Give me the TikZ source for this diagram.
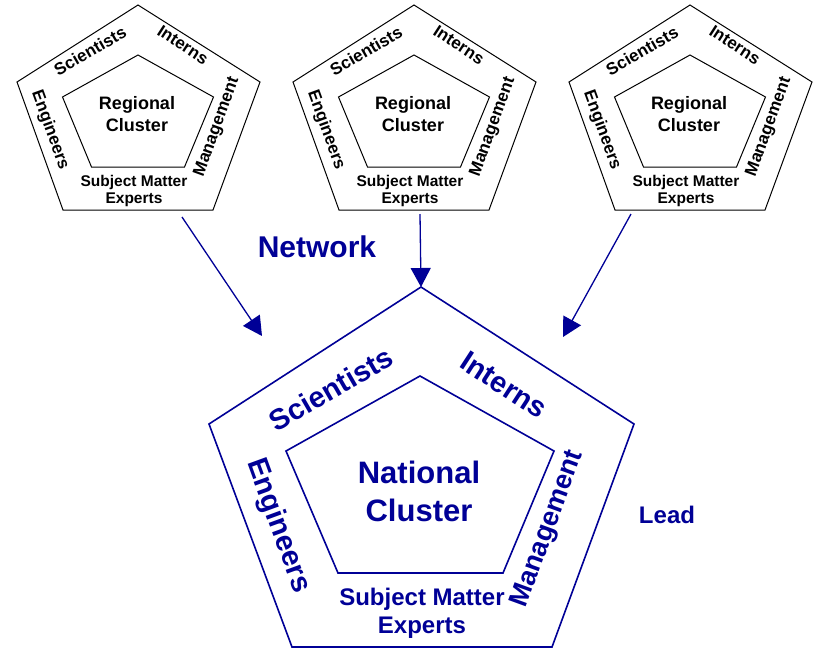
\documentclass[tikz,border=0pt]{standalone}
\usepackage{fontspec}
\setmainfont{Liberation Sans}
\usetikzlibrary{arrows.meta}
\definecolor{navy}{RGB}{0,0,150}

\begin{document}
\begin{tikzpicture}[
x=1pt, y=-1pt,
regbox/.style={draw=black, line width=1pt},
natbox/.style={draw=navy, line width=1.6pt},
regtitle/.style={font=\fontsize{18}{22}\selectfont\bfseries, text=black, inner sep=0pt, align=center},
regsme/.style={font=\fontsize{15.5}{17}\selectfont\bfseries, text=black, inner sep=0pt, align=center},
regside/.style={font=\fontsize{17}{19}\selectfont\bfseries, text=black, inner sep=0pt},
nattitle/.style={font=\fontsize{31}{38}\selectfont\bfseries, text=navy, inner sep=0pt, align=center},
natsme/.style={font=\fontsize{24}{28}\selectfont\bfseries, text=navy, inner sep=0pt, align=center},
natside/.style={font=\fontsize{29}{32}\selectfont\bfseries, text=navy, inner sep=0pt},
flow/.style={draw=navy, line width=1.3pt, -{Triangle[length=19pt, width=20pt]}}
]
\useasboundingbox (0,0) rectangle (814,649);

%Regional clusters
\foreach \name/\cx in {r1/138, r2/414, r3/690}{
  \draw[regbox] (\cx,5) -- (\cx+122,82) -- (\cx+75,210) -- (\cx-75,210) -- (\cx-121,82) -- cycle;
  \draw[regbox] (\cx,55) -- (\cx+75.5,97) -- (\cx+46.5,167) -- (\cx-46.5,167) -- (\cx-75.5,97) -- cycle;
  \node[regtitle]					(\name-title)	at (\cx-1,114)		{Regional\\ Cluster};
  \node[regsme]						(\name-sme)		at (\cx-4,190.5)	{Subject Matter\\ Experts};
  \node[regside, rotate=30]			(\name-sci)		at (\cx-48,51)		{Scientists};
  \node[regside, rotate=-33]		(\name-int)		at (\cx+45,45)		{Interns};
  \node[regside, rotate=-70]		(\name-eng)		at (\cx-88,130)		{Engineers};
  \node[regside, rotate=70]			(\name-man)		at (\cx+79,127)		{Management};
}

%National cluster
\draw[natbox] (421,287) -- (634,424) -- (552,647) -- (292,647) -- (209,424) -- cycle;
\draw[natbox] (420,376) -- (554,451) -- (503,573) -- (338,573) -- (286,451) -- cycle;
\node[nattitle]					(nat-title)	at (419,491)	{National\\ Cluster};
\node[natsme]					(nat-sme)	at (422,613)	{Subject Matter\\ Experts};
\node[natside, rotate=30]		(nat-sci)	at (331,389)	{Scientists};
\node[natside, rotate=-33]		(nat-int)	at (504,385)	{Interns};
\node[natside, rotate=-70]		(nat-eng)	at (278,526)	{Engineers};
\node[natside, rotate=70, font=\fontsize{27}{30}\selectfont\bfseries]	(nat-man)	at (548,529)	{Management};

%Labels
\node[font=\fontsize{30}{33}\selectfont\bfseries, text=navy]	(network)	at (317,247)	{Network};
\node[font=\fontsize{24}{28}\selectfont\bfseries, text=navy]	(lead)		at (667,515)	{Lead};

%Lines
\coordinate (r1-out) at (182,217);
\coordinate (r2-out) at (420,214);
\coordinate (r3-out) at (631,214);
\coordinate (nat-left) at (262,336);
\coordinate (nat-top) at (421,287);
\coordinate (nat-right) at (563,337);
\draw[flow] (r1-out) -- (nat-left);
\draw[flow] (r2-out) -- (nat-top);
\draw[flow] (r3-out) -- (nat-right);

\end{tikzpicture}
\end{document}
